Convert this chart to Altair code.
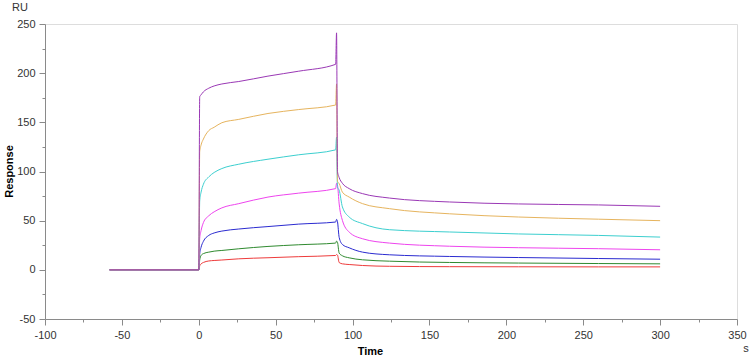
import altair as alt
import pandas as pd

# Time points (s)
times = [-58, 0, 0.6, 1.5, 3, 6.5, 10, 15, 26, 45, 65, 89, 89.6, 90.2, 91.3, 93.4,
         97.8, 106.5, 124, 163, 208, 260, 300]

# Response values (RU) per concentration curve
red     = [0, 0, 4, 6, 7.5, 9, 9.5, 10, 11.2, 12.3, 13.4, 14.6, 15.6, 15, 7.4, 6.1,
           5.4, 4.4, 3.6, 3.2, 3.1, 3.0, 3.0]
green   = [0, 0, 10, 14.6, 16.5, 18, 19, 19.7, 21.4, 23.8, 25.5, 27.2, 29.2, 28, 17, 14.3,
           12.2, 10.2, 8.8, 7.5, 6.9, 6.4, 6.1]
blue    = [0, 0, 16, 23, 29, 35, 37.5, 39.4, 41.5, 44, 46.5, 48.6, 51.3, 49, 33, 25.8,
           22.4, 18, 15.3, 13.6, 12.5, 11.5, 10.8]
magenta = [0, 0, 32, 40, 48, 55, 59, 63, 67.3, 74, 78, 82.6, 88, 86, 67, 50.3,
           38.4, 31.6, 27.2, 24, 22.5, 21.5, 20.4]
cyan    = [0, 0, 70, 79, 87, 94.5, 99, 103, 107.4, 112.5, 117, 122, 135, 84, 81, 64,
           53.7, 47, 40.8, 38.5, 36.5, 35, 33.3]
orange  = [0, 0, 120, 127, 133, 141.6, 145, 149.6, 153, 159, 163, 167.6, 189, 90, 87.7, 79,
           74, 67.3, 62.2, 57, 53.7, 51.5, 50]
purple  = [0, 0, 176, 178, 181, 184.7, 187, 189, 191.5, 197, 202, 209, 241, 100, 93.8, 88,
           82.6, 77.5, 73, 69, 67, 66, 64.6]

series_names = ["c1", "c2", "c3", "c4", "c5", "c6", "c7"]
series_vals = [red, green, blue, magenta, cyan, orange, purple]
series_colors = ["#ee3b3b", "#2f8a2f", "#2b2bd0", "#ee44ee", "#3ccfcf", "#e6b45e", "#9a38b5"]

x_ticks = list(range(-100, 351, 25))
y_ticks = list(range(-50, 251, 25))

rows = []
for name, vals in zip(series_names, series_vals):
    for i, (t, v) in enumerate(zip(times, vals)):
        rows.append({"series": name, "t": t, "v": v, "i": i})
df = pd.DataFrame(rows)

FONT = "Liberation Sans"
AXIS_GRAY = "#8a8a8a"
LABEL_COL = "#333333"
LABEL_EXPR = "datum.value % 50 === 0 ? '' + datum.value : ''"
TICK_SIZE = {"condition": {"test": "datum.value % 50 === 0", "value": 6}, "value": 3}

x_axis = alt.Axis(
    values=x_ticks, labelExpr=LABEL_EXPR, tickSize=TICK_SIZE,
    grid=False, domainColor=AXIS_GRAY, tickColor=AXIS_GRAY,
    labelFont=FONT, labelFontSize=11, labelColor=LABEL_COL,
    labelPadding=4, labelFlush=False, labelOverlap=False,
    title="Time", titleFont=FONT, titleFontSize=11, titleFontWeight="bold",
    titleColor="#000000", titleX=325, titleY=32, titleBaseline="middle",
)
y_axis = alt.Axis(
    values=y_ticks, labelExpr=LABEL_EXPR, tickSize=TICK_SIZE,
    grid=False, domainColor=AXIS_GRAY, tickColor=AXIS_GRAY,
    labelFont=FONT, labelFontSize=11, labelColor=LABEL_COL,
    labelPadding=4, labelFlush=False, labelOverlap=False,
    title="Response", titleFont=FONT, titleFontSize=11, titleFontWeight="bold",
    titleColor="#000000", titleAngle=270, titleX=-36, titleY=147,
    titleBaseline="middle",
)

lines = alt.Chart(df).mark_line(strokeWidth=1, interpolate="monotone").encode(
    x=alt.X("t:Q", scale=alt.Scale(domain=[-100, 350], nice=False), axis=x_axis),
    y=alt.Y("v:Q", scale=alt.Scale(domain=[-50, 250], nice=False), axis=y_axis),
    color=alt.Color("series:N", scale=alt.Scale(domain=series_names, range=series_colors),
                    legend=None),
    order="i:Q",
)

unit_y = alt.Chart(pd.DataFrame({"txt": ["RU"]})).mark_text(
    font=FONT, fontSize=11, color=LABEL_COL, align="left", baseline="middle"
).encode(text="txt:N", x=alt.value(-33), y=alt.value(-16))

unit_x = alt.Chart(pd.DataFrame({"txt": ["s"]})).mark_text(
    font=FONT, fontSize=11, color=LABEL_COL, align="center", baseline="middle"
).encode(text="txt:N", x=alt.value(701), y=alt.value(325))

chart = alt.layer(lines, unit_y, unit_x).properties(
    width=692, height=295,
    autosize=alt.AutoSizeParams(type="none"),
    padding={"left": 45, "top": 24, "right": 14, "bottom": 38},
).configure_view(stroke=None).configure(background="white")

chart.save("out.html", embed_options={"renderer": "svg", "actions": False})
